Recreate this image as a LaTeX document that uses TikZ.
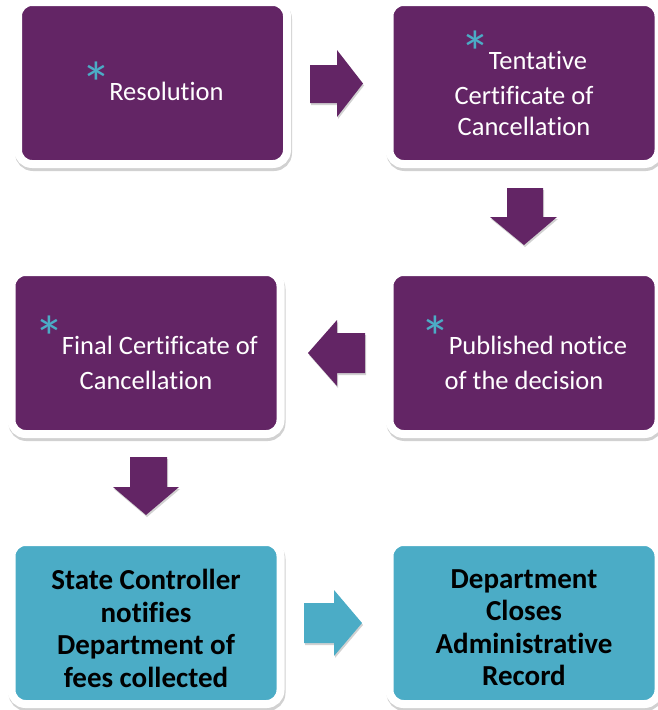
\documentclass[tikz,border=0pt]{standalone}
\usepackage{fontspec}
\setmainfont{Carlito}[Ligatures=NoCommon]
\usetikzlibrary{shadows}
\definecolor{plum}{RGB}{99,37,101}
\definecolor{seablue}{RGB}{75,172,198}
\newcommand{\astr}{\textcolor{seablue}{\raisebox{-4pt}{\fontsize{60}{60}\selectfont *}}\kern-2pt}
\newcommand{\topstrut}[1]{\rule{0pt}{#1}}

\begin{document}
\begin{tikzpicture}[x=1pt,y=-1pt,
  stepbox/.style={rounded corners=14pt, draw=white, line width=8pt,
    minimum width=269pt, minimum height=162pt, align=center, inner sep=0pt,
    drop shadow={shadow xshift=1pt, shadow yshift=-3pt, opacity=.3,
      fill=black!60, draw=black!60, line width=8pt}},
  plumbox/.style={stepbox, fill=plum, text=white,
    font=\fontsize{26.5}{31}\selectfont},
  seabox/.style={stepbox, fill=seablue, text=black,
    font=\fontsize{29}{32.5}\selectfont\bfseries},
  plumarrow/.style={fill=plum, drop shadow={shadow xshift=1pt,
    shadow yshift=-2pt, opacity=.3, fill=black!60}},
  seaarrow/.style={fill=seablue, drop shadow={shadow xshift=1pt,
    shadow yshift=-2pt, opacity=.3, fill=black!60}}]
\useasboundingbox (0,0) rectangle (658,710);

% purple steps
\node [plumbox] (resol) at (152.5,83) {\astr Resolution};
\node [plumbox] (tent) at (524,83) {\astr Tentative\\[4pt]Certificate of\\Cancellation};
\node [plumbox] (final) at (146,353) {\astr Final Certificate of\\[4pt]Cancellation};
\node [plumbox] (publ) at (524,353) {\astr Published notice\\[4pt]of the decision};

% blue steps
\node [seabox] (ctrl) at (146,623) {\topstrut{31pt}State Controller\\notifies\\Department of\\fees collected};
\node [seabox] (close) at (524,623) {\topstrut{28pt}Department\\Closes\\Administrative\\Record};

% block arrows
\path [plumarrow] (310,65) -- (337,65) -- (337,50) -- (363,83.5) -- (337,117) -- (337,103) -- (310,103) -- cycle;
\path [plumarrow] (507,188) -- (543,188) -- (543,217) -- (557,217) -- (524,245) -- (490,217) -- (507,217) -- cycle;
\path [plumarrow] (365,333) -- (337,333) -- (337,320) -- (308,353) -- (337,386) -- (337,373) -- (365,373) -- cycle;
\path [plumarrow] (130,457) -- (167,457) -- (167,487) -- (179,487) -- (146,515) -- (113,487) -- (130,487) -- cycle;
\path [seaarrow] (304,603) -- (334,603) -- (334,590) -- (362,623) -- (334,656) -- (334,643) -- (304,643) -- cycle;
\end{tikzpicture}
\end{document}
